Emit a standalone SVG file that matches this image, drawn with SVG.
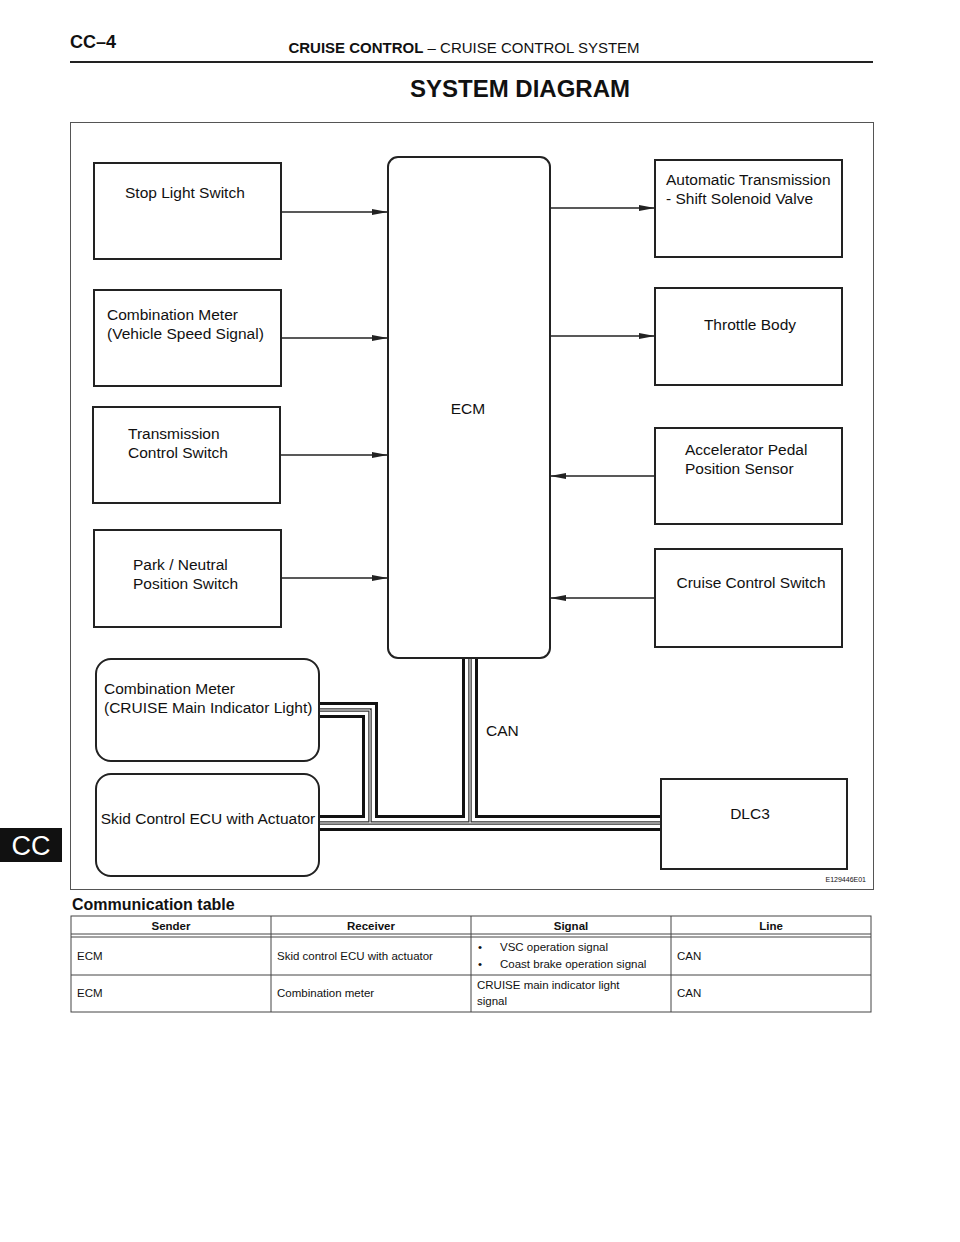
<svg xmlns="http://www.w3.org/2000/svg" width="960" height="1242" viewBox="0 0 960 1242">
<style>
text{font-family:"Liberation Sans",Arial,sans-serif;fill:#111}
.box{fill:#fff;stroke:#222;stroke-width:2}
.lbl{font-size:15.5px}
.ar{stroke:#222;stroke-width:1.6;fill:none;marker-end:url(#ah)}
.t{font-size:11.5px}
.th{font-size:11.5px;font-weight:bold;text-anchor:middle}
.tl{stroke:#444;stroke-width:1;fill:none}
</style>
<defs><marker id="ah" markerWidth="16" markerHeight="8" refX="16" refY="4" orient="auto" markerUnits="userSpaceOnUse"><path d="M0,1 L16,4 L0,7 Z" fill="#222"/></marker></defs>
<rect width="960" height="1242" fill="#fff"/>
<text x="70" y="48" font-size="18" font-weight="bold">CC–4</text>
<text x="464" y="53" font-size="15" text-anchor="middle"><tspan font-weight="bold">CRUISE CONTROL</tspan>  –  CRUISE CONTROL SYSTEM</text>
<line x1="70" y1="62" x2="873" y2="62" stroke="#222" stroke-width="2"/>
<text x="520" y="97" font-size="24" font-weight="bold" text-anchor="middle">SYSTEM DIAGRAM</text>
<rect x="0" y="828" width="62" height="34" fill="#111"/>
<text x="31" y="855" font-size="27" text-anchor="middle" style="fill:#fff">CC</text>
<rect x="70.5" y="122.5" width="803" height="767" fill="none" stroke="#555" stroke-width="1"/>
<text x="866" y="882" font-size="7" text-anchor="end">E129446E01</text>
<g id="connectors">
<line x1="281" y1="212" x2="388" y2="212" class="ar"/>
<line x1="281" y1="338" x2="388" y2="338" class="ar"/>
<line x1="280" y1="455" x2="388" y2="455" class="ar"/>
<line x1="281" y1="578" x2="388" y2="578" class="ar"/>
<line x1="550" y1="208" x2="655" y2="208" class="ar"/>
<line x1="550" y1="336" x2="655" y2="336" class="ar"/>
<line x1="655" y1="476" x2="550" y2="476" class="ar"/>
<line x1="655" y1="598" x2="550" y2="598" class="ar"/>
<g fill="none">
<path d="M470,658V823M319,823H661M319,710H370V823" stroke="#111" stroke-width="16"/>
<path d="M470,658V823M319,823H661M319,710H370V823" stroke="#fff" stroke-width="10"/>
<path d="M470,658V823M319,823H661M319,710H370V823" stroke="#333" stroke-width="3.5"/>
<path d="M470,658V823M319,823H661M319,710H370V823" stroke="#fff" stroke-width="1"/>
</g>
<text x="486" y="736" class="lbl">CAN</text>
</g>
<g id="stop"><rect class="box" x="94" y="163" width="187" height="96"/><text x="125" y="198" class="lbl">Stop Light Switch</text></g>
<g id="combmeter"><rect class="box" x="94" y="290" width="187" height="96"/><text x="107" y="320" class="lbl">Combination Meter</text><text x="107" y="339" class="lbl">(Vehicle Speed Signal)</text></g>
<g id="trans"><rect class="box" x="93" y="407" width="187" height="96"/><text x="128" y="439" class="lbl">Transmission</text><text x="128" y="458" class="lbl">Control Switch</text></g>
<g id="park"><rect class="box" x="94" y="530" width="187" height="97"/><text x="133" y="570" class="lbl">Park / Neutral</text><text x="133" y="589" class="lbl">Position Switch</text></g>
<g id="ecm"><rect class="box" x="388" y="157" width="162" height="501" rx="10"/><text x="468" y="414" class="lbl" text-anchor="middle">ECM</text></g>
<g id="atsv"><rect class="box" x="655" y="160" width="187" height="97"/><text x="666" y="185" class="lbl">Automatic Transmission</text><text x="666" y="204" class="lbl">- Shift Solenoid Valve</text></g>
<g id="throttle"><rect class="box" x="655" y="288" width="187" height="97"/><text x="750" y="330" class="lbl" text-anchor="middle">Throttle Body</text></g>
<g id="accel"><rect class="box" x="655" y="428" width="187" height="96"/><text x="685" y="455" class="lbl">Accelerator Pedal</text><text x="685" y="474" class="lbl">Position Sensor</text></g>
<g id="cruise"><rect class="box" x="655" y="549" width="187" height="98"/><text x="751" y="588" class="lbl" text-anchor="middle">Cruise Control Switch</text></g>
<g id="combind"><rect class="box" x="96" y="659" width="223" height="102" rx="15"/><text x="104" y="694" class="lbl">Combination Meter</text><text x="104" y="713" class="lbl">(CRUISE Main Indicator Light)</text></g>
<g id="skid"><rect class="box" x="96" y="774" width="223" height="102" rx="15"/><text x="208" y="824" class="lbl" text-anchor="middle">Skid Control ECU with Actuator</text></g>
<g id="dlc3"><rect class="box" x="661" y="779" width="186" height="90"/><text x="750" y="819" class="lbl" text-anchor="middle">DLC3</text></g>
<text x="72" y="910" font-size="16" font-weight="bold">Communication table</text>
<g id="table">
<rect x="71" y="916" width="800" height="96" class="tl"/>
<path d="M71,934H871M71,937H871M71,975H871M271,916V1012M471,916V1012M671,916V1012" class="tl"/>
<text x="171" y="930" class="th">Sender</text><text x="371" y="930" class="th">Receiver</text><text x="571" y="930" class="th">Signal</text><text x="771" y="930" class="th">Line</text>
<text x="77" y="960" class="t">ECM</text><text x="277" y="960" class="t">Skid control ECU with actuator</text>
<text x="478" y="951" class="t">•</text><text x="500" y="951" class="t">VSC operation signal</text>
<text x="478" y="968" class="t">•</text><text x="500" y="968" class="t">Coast brake operation signal</text>
<text x="677" y="960" class="t">CAN</text>
<text x="77" y="997" class="t">ECM</text><text x="277" y="997" class="t">Combination meter</text>
<text x="477" y="989" class="t">CRUISE main indicator light</text><text x="477" y="1005" class="t">signal</text>
<text x="677" y="997" class="t">CAN</text>
</g>
</svg>
